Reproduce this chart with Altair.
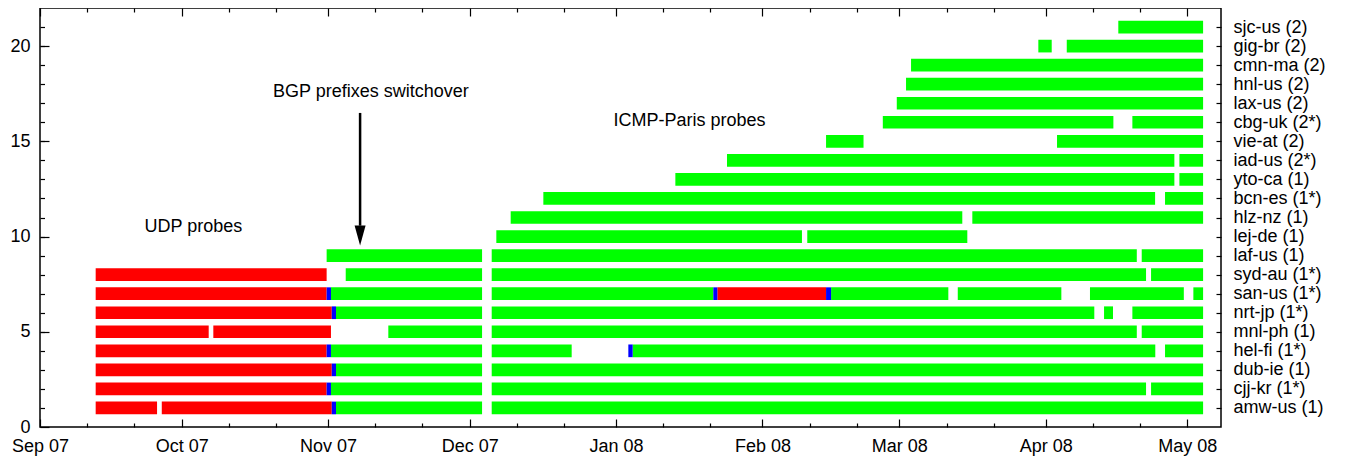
import json
import altair as alt
import pandas as pd

FONT = "Liberation Sans"

# ---- rows (y = 1 .. 21) ----
sites = ["amw-us (1)", "cjj-kr (1*)", "dub-ie (1)", "hel-fi (1*)", "mnl-ph (1)",
         "nrt-jp (1*)", "san-us (1*)", "syd-au (1*)", "laf-us (1)", "lej-de (1)",
         "hlz-nz (1)", "bcn-es (1*)", "yto-ca (1)", "iad-us (2*)", "vie-at (2)",
         "cbg-uk (2*)", "lax-us (2)", "hnl-us (2)", "cmn-ma (2)", "gig-br (2)",
         "sjc-us (2)"]

# ---- UDP probe periods (red) ----
udp_row = [1, 1, 2, 3, 4, 5, 5, 6, 7, 7, 8]
udp_start = ["2007-09-12T19:00", "2007-09-26T19:00", "2007-09-12T19:00", "2007-09-12T19:00",
             "2007-09-12T19:00", "2007-09-12T19:00", "2007-10-07T17:00", "2007-09-12T19:00",
             "2007-09-12T19:00", "2008-01-22T11:00", "2007-09-12T19:00"]
udp_end = ["2007-09-25T19:00", "2007-11-01T19:00", "2007-10-31T17:00", "2007-11-01T19:00",
           "2007-10-31T17:00", "2007-10-06T17:30", "2007-11-01T15:00", "2007-11-01T19:00",
           "2007-10-31T17:00", "2008-02-14T11:30", "2007-10-31T17:00"]

# ---- BGP switchover moments (blue) ----
sw_row = [1, 2, 3, 4, 6, 7, 4, 7, 7]
sw_start = ["2007-11-01T19:00", "2007-10-31T17:00", "2007-11-01T19:00", "2007-10-31T17:00",
            "2007-11-01T19:00", "2007-10-31T17:00", "2008-01-03T14:30", "2008-01-21T14:30",
            "2008-02-14T11:30"]
sw_end = ["2007-11-02T16:30", "2007-11-01T15:00", "2007-11-02T16:30", "2007-11-01T15:00",
          "2007-11-02T16:30", "2007-11-01T15:00", "2008-01-04T12:30", "2008-01-22T11:00",
          "2008-02-15T13:00"]

# ---- ICMP-Paris probe periods (green) ----
icmp_row = [1, 1,
            2, 2, 2,
            3, 3,
            4, 4, 4, 4,
            5, 5, 5,
            6, 6, 6, 6,
            7, 7, 7, 7, 7, 7,
            8, 8, 8,
            9, 9, 9,
            10, 10,
            11, 11,
            12, 12,
            13, 13,
            14, 14,
            15, 15,
            16, 16,
            17, 18, 19,
            20, 20,
            21]
icmp_start = ["2007-11-02T16:30", "2007-12-05T16:00",
              "2007-11-01T15:00", "2007-12-05T16:00", "2008-04-23T07:30",
              "2007-11-02T16:30", "2007-12-05T16:00",
              "2007-11-01T15:00", "2007-12-05T16:00", "2008-01-04T12:30", "2008-04-26T06:30",
              "2007-11-13T18:30", "2007-12-05T16:00", "2008-04-21T08:00",
              "2007-11-02T16:30", "2007-12-05T16:00", "2008-04-13T08:30", "2008-04-19T08:30",
              "2007-11-01T15:00", "2007-12-05T16:00", "2008-02-15T13:00", "2008-03-13T09:00",
              "2008-04-10T09:00", "2008-05-02T06:30",
              "2007-11-04T18:00", "2007-12-05T16:00", "2008-04-23T07:30",
              "2007-10-31T17:00", "2007-12-05T16:00", "2008-04-21T08:00",
              "2007-12-06T15:30", "2008-02-10T12:00",
              "2007-12-09T16:30", "2008-03-16T11:00",
              "2007-12-16T14:30", "2008-04-26T06:30",
              "2008-01-13T13:30", "2008-04-29T07:30",
              "2008-01-24T12:00", "2008-04-29T07:30",
              "2008-02-14T11:30", "2008-04-03T09:30",
              "2008-02-26T12:00", "2008-04-19T08:30",
              "2008-02-29T11:00", "2008-03-02T10:00", "2008-03-03T11:30",
              "2008-03-30T10:30", "2008-04-05T11:00",
              "2008-04-16T09:00"]
icmp_end = ["2007-12-03T15:00", "2008-05-04T08:00",
            "2007-12-03T15:00", "2008-04-22T06:00", "2008-05-04T08:00",
            "2007-12-03T15:00", "2008-05-04T08:00",
            "2007-12-03T15:00", "2007-12-22T14:30", "2008-04-24T05:00", "2008-05-04T08:00",
            "2007-12-03T15:00", "2008-04-20T07:00", "2008-05-04T08:00",
            "2007-12-03T15:00", "2008-04-11T07:00", "2008-04-15T06:00", "2008-05-04T08:00",
            "2007-12-03T15:00", "2008-01-21T14:30", "2008-03-11T09:00", "2008-04-04T07:30",
            "2008-04-30T06:00", "2008-05-04T08:00",
            "2007-12-03T15:00", "2008-04-22T06:00", "2008-05-04T08:00",
            "2007-12-03T15:00", "2008-04-20T07:00", "2008-05-04T08:00",
            "2008-02-09T09:00", "2008-03-15T09:30",
            "2008-03-14T08:00", "2008-05-04T08:00",
            "2008-04-24T04:00", "2008-05-04T08:00",
            "2008-04-28T06:00", "2008-05-04T08:00",
            "2008-04-28T06:00", "2008-05-04T08:00",
            "2008-02-22T10:00", "2008-05-04T08:00",
            "2008-04-15T08:00", "2008-05-04T08:00",
            "2008-05-04T08:00", "2008-05-04T08:00", "2008-05-04T08:00",
            "2008-04-02T06:30", "2008-05-04T08:00",
            "2008-05-04T08:00"]

# ---- annotations ----
ann_text = ["UDP probes", "BGP prefixes switchover", "ICMP-Paris probes"]
ann_x = ["2007-10-03T12:00", "2007-11-10T02:00", "2008-01-16T13:30"]
ann_y = [10.52, 17.59, 16.07]
arrow_x = ["2007-11-07T19:00"]
arrow_top = [16.49]
arrow_base = [10.57]
arrow_head = [10.05]

# ---- tick values ----
month_ticks = [(2007, 9), (2007, 10), (2007, 11), (2007, 12), (2008, 1),
               (2008, 2), (2008, 3), (2008, 4), (2008, 5)]
minor_days = [11, 21]
y_major = [0, 5, 10, 15, 20]
y_minor = list(range(1, 22))

# ---- build tables ----
frames = []
for kind, rows, st, en in [("udp", udp_row, udp_start, udp_end),
                           ("icmp", icmp_row, icmp_start, icmp_end),
                           ("switch", sw_row, sw_start, sw_end)]:
    frames.append(pd.DataFrame({"row": rows, "start": st, "end": en, "kind": kind}))
df = pd.concat(frames, ignore_index=True)
half = 0.333
df["ylo"] = df["row"] - half
df["yhi"] = df["row"] + half

ann = pd.DataFrame({"text": ann_text, "x": ann_x, "y": ann_y})
arr = pd.DataFrame({"x": arrow_x, "top": arrow_top, "base": arrow_base, "head": arrow_head})

major_dt = [alt.DateTime(year=y, month=m, date=1) for y, m in month_ticks]
minor_dt = [alt.DateTime(year=y, month=m, date=d) for y, m in month_ticks[:-1] for d in minor_days]

x_scale = alt.Scale(domain=[alt.DateTime(year=2007, month=9, date=1),
                            alt.DateTime(year=2008, month=5, date=8, hours=3)])
y_scale = alt.Scale(domain=[0, 22], nice=False, zero=False)

common = dict(domain=False, grid=False, tickColor="black", tickWidth=1.2,
              labelFont=FONT, labelFontSize=18, labelColor="black", title=None)

ax_bottom = alt.Axis(orient="bottom", values=major_dt, format="%b %y", tickSize=8, offset=-8,
                     labelPadding=10, labelFlush=False, labelOverlap=False, **common)
ax_bottom_minor = alt.Axis(orient="bottom", values=minor_dt, labels=False, tickSize=4, offset=-4, **common)
ax_top = alt.Axis(orient="top", values=major_dt, labels=False, tickSize=8, offset=-8, **common)
ax_top_minor = alt.Axis(orient="top", values=minor_dt, labels=False, tickSize=4, offset=-4, **common)

ax_left = alt.Axis(orient="left", values=y_major, tickSize=9, offset=-9, labelPadding=10,
                   labelFlush=False, labelOverlap=False, **common)
ax_left_minor = alt.Axis(orient="left", values=y_minor, labels=False, tickSize=4.5, offset=-4.5, **common)
label_expr = json.dumps([""] + sites) + "[datum.value]"
ax_right = alt.Axis(orient="right", values=y_minor, labelExpr=label_expr, tickSize=5, offset=-5,
                    labelPadding=12, labelAlign="left", labelFlush=False, labelOverlap=False, **common)

bars = alt.Chart(df).mark_bar().encode(
    x=alt.X("start:T", scale=x_scale, axis=ax_bottom),
    x2="end:T",
    y=alt.Y("ylo:Q", scale=y_scale, axis=ax_left),
    y2="yhi:Q",
    color=alt.Color("kind:N", scale=alt.Scale(domain=["udp", "icmp", "switch"],
                                              range=["#ff0000", "#00ff00", "#0000ff"]),
                    legend=None),
)

def ghost(xax, yax):
    return alt.Chart(df).mark_point(opacity=0).encode(
        x=alt.X("start:T", scale=x_scale, axis=xax),
        y=alt.Y("row:Q", scale=y_scale, axis=yax),
    )

g1 = ghost(ax_bottom_minor, ax_left_minor)
g2 = ghost(ax_top, ax_right)
g3 = ghost(ax_top_minor, None)

texts = alt.Chart(ann).mark_text(font=FONT, fontSize=18, color="black",
                                 align="center", baseline="middle").encode(
    x=alt.X("x:T", scale=x_scale, axis=None),
    y=alt.Y("y:Q", scale=y_scale, axis=None),
    text="text:N",
)

shaft = alt.Chart(arr).mark_rule(color="black", strokeWidth=2.5).encode(
    x=alt.X("x:T", scale=x_scale, axis=None),
    y=alt.Y("top:Q", scale=y_scale, axis=None),
    y2="base:Q",
)
head = alt.Chart(arr).mark_point(shape="M-0.55,-1L0.55,-1L0,1Z", size=400, filled=True,
                                 color="black", opacity=1).encode(
    x=alt.X("x:T", scale=x_scale, axis=None),
    y=alt.Y("head:Q", scale=y_scale, axis=None),
)

chart = alt.layer(bars, g1, g2, g3, texts, shaft, head).resolve_axis(
    x="independent", y="independent"
).properties(
    width=1181, height=419,
    autosize=alt.AutoSizeParams(type="none"),
    padding={"left": 32, "top": 0, "right": 108, "bottom": 31},
).configure_view(stroke="black", strokeWidth=1.5)

chart.save("out.html", embed_options={"renderer": "svg", "actions": False})
